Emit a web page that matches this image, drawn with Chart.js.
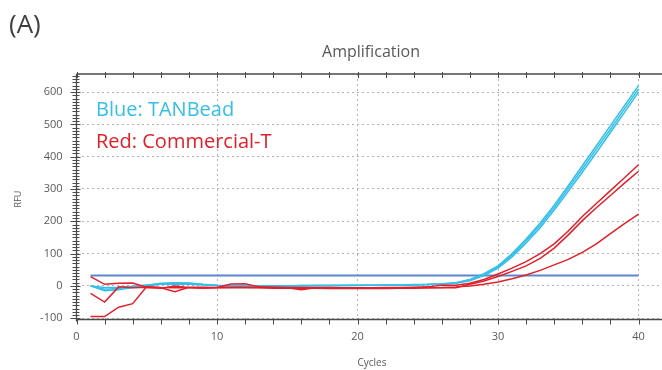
<!DOCTYPE html>
<html>
<head>
<meta charset="utf-8">
<script src="https://cdn.jsdelivr.net/npm/chart.js@4.4.1/dist/chart.umd.min.js"></script>
<style>
  body { margin: 0; background: #fff; }
  #wrap { position: relative; width: 662px; height: 370px; }
</style>
</head>
<body>
<div id="wrap"><canvas id="ampChart" width="662" height="370"></canvas></div>
<script>
// --- DATA ---
const cycles = [1,2,3,4,5,6,7,8,9,10,11,12,13,14,15,16,17,18,19,20,
                21,22,23,24,25,26,27,28,29,30,31,32,33,34,35,36,37,38,39,40];

// TANBead wells (blue)
const blue1 = [0,-15,-12,-5,0,6,8,8,4,1,0,0,0,0,0,1,1,1,2,2,
               2,3,3,4,5,7,10,20,38,62,100,145,195,250,310,372,434,496,558,620];
const blue2 = [0,-5,-4,-1,3,5,5,5,3,1,0,0,0,0,0,1,1,1,1,2,
               2,2,3,3,4,6,9,18,35,58,95,140,188,243,302,362,424,485,548,610];
const blue3 = [0,-10,-8,-2,2,8,10,9,5,2,1,0,0,0,0,0,1,1,1,1,
               2,2,2,3,4,5,8,16,32,55,90,133,180,235,293,352,413,475,537,600];

// Commercial-T wells (red)
const red1 = [29,5,8,9,-5,-7,0,-5,-6,-5,6,7,-3,-4,-5,-5,-5,-5,-6,-6,
              -6,-5,-5,-4,-3,2,2,8,20,37,55,75,100,130,170,215,255,295,335,375];
const red2 = [-23,-50,-3,-6,-4,-6,-18,-4,-4,-5,-4,-4,-5,-5,-6,-12,-6,-6,-7,-7,
              -7,-7,-6,-6,-6,-6,-6,5,15,29,45,62,85,117,158,202,242,280,318,355];
const red3 = [-95,-95,-66,-55,-2,-5,-6,-6,-7,-6,-6,-6,-6,-7,-7,-7,-7,-8,-8,-8,
              -8,-8,-7,-7,-6,-5,-3,0,5,12,22,34,48,65,82,104,130,162,193,222];

// threshold line
const thresholdCycles = [1, 40];
const thresholdValues = [32, 32];

// axis ticks
const xTickValues = [0, 10, 20, 30, 40];
const yTickValues = [-100, 0, 100, 200, 300, 400, 500, 600];

// --- HELPERS ---
function toPoints(xs, ys) {
    return xs.map((x, i) => ({ x: x, y: ys[i] }));
}

const CYAN = '#35bfe8';
const RED = '#e2202b';
const AXIS = '#4a4a4a';
const TEXT = '#595959';

function series(label, values, color) {
    return {
        label: label,
        data: toPoints(cycles, values),
        borderColor: color,
        borderWidth: 1.5,
        pointRadius: 0,
        tension: 0,
        fill: false
    };
}

// --- DECORATION PLUGIN (axis frame, tick marks, texts) ---
const decorations = {
    id: 'decorations',
    afterDraw(chart) {
        const { ctx, chartArea, scales } = chart;
        const xs = scales.x, ys = scales.y;
        const left = chartArea.left, top = chartArea.top;
        const right = chartArea.right, bottom = chartArea.bottom;

        ctx.save();
        ctx.strokeStyle = AXIS;
        ctx.lineWidth = 1.3;

        // frame lines
        ctx.beginPath();
        ctx.moveTo(left, top); ctx.lineTo(right, top);
        ctx.moveTo(left, top); ctx.lineTo(left, bottom + 2);
        ctx.moveTo(left, bottom); ctx.lineTo(right, bottom);
        ctx.stroke();

        // tick marks every 2 cycles, top and bottom
        ctx.lineWidth = 1;
        ctx.beginPath();
        for (let c = 0; c <= 40; c += 2) {
            const px = Math.round(xs.getPixelForValue(c)) + 0.5;
            ctx.moveTo(px, top - 2); ctx.lineTo(px, top + 4);
            ctx.moveTo(px, bottom - 1); ctx.lineTo(px, bottom + 5);
        }
        // left ticks every 10 RFU
        for (let v = -100; v <= 650; v += 10) {
            const py = Math.round(ys.getPixelForValue(v)) + 0.5;
            const major = v % 100 === 0;
            ctx.moveTo(left - (major ? 6 : 4), py);
            ctx.lineTo(left + (major ? 4 : 3), py);
        }
        ctx.stroke();

        // panel letter and title
        ctx.fillStyle = '#404040';
        ctx.textBaseline = 'middle';
        ctx.textAlign = 'left';
        ctx.font = '26px "Open Sans"';
        ctx.fillText('(A)', 9, 26);

        ctx.fillStyle = TEXT;
        ctx.textAlign = 'center';
        ctx.font = '16px "Open Sans"';
        ctx.fillText('Amplification', 371, 52);

        // axis titles
        ctx.font = '10px "Open Sans"';
        ctx.fillText('Cycles', 372, 363);
        ctx.save();
        ctx.translate(18, 199);
        ctx.rotate(-Math.PI / 2);
        ctx.font = '9px "Open Sans"';
        ctx.fillText('RFU', 0, 0);
        ctx.restore();

        // in-plot legend
        ctx.textAlign = 'left';
        ctx.font = '20px "Open Sans"';
        ctx.fillStyle = CYAN;
        ctx.fillText('Blue: TANBead', 96, 110);
        ctx.fillStyle = RED;
        ctx.fillText('Red: Commercial-T', 96, 142);
        ctx.restore();
    }
};

// --- CHART ---
const ctx = document.getElementById('ampChart').getContext('2d');
const ampChart = new Chart(ctx, {
    type: 'line',
    data: {
        datasets: [
            series('Commercial-T 1', red1, RED),
            series('Commercial-T 2', red2, RED),
            series('Commercial-T 3', red3, RED),
            series('TANBead 1', blue1, CYAN),
            series('TANBead 2', blue2, CYAN),
            series('TANBead 3', blue3, CYAN),
            {
                label: 'Threshold',
                data: toPoints(thresholdCycles, thresholdValues),
                borderColor: '#5a87c9',
                borderWidth: 2,
                pointRadius: 0,
                fill: false
            }
        ]
    },
    options: {
        responsive: false,
        animation: false,
        devicePixelRatio: 1,
        layout: { padding: { top: 74, right: 0, left: 0, bottom: 0 } },
        plugins: {
            legend: { display: false },
            title: { display: false },
            tooltip: { enabled: false }
        },
        scales: {
            x: {
                type: 'linear',
                min: 0,
                max: 41.67,
                afterBuildTicks: (scale) => {
                    scale.ticks = xTickValues.map(v => ({ value: v }));
                },
                afterFit: (scale) => { scale.height = 50.5; },
                ticks: {
                    color: TEXT,
                    font: { family: 'Open Sans', size: 11 },
                    padding: 11,
                    maxRotation: 0
                },
                grid: { color: '#b4b4b4', lineWidth: 1, drawTicks: false },
                border: { display: false, dash: [2, 3] }
            },
            y: {
                type: 'linear',
                min: -104,
                max: 656,
                afterBuildTicks: (scale) => {
                    scale.ticks = yTickValues.map(v => ({ value: v }));
                },
                afterFit: (scale) => { scale.width = 76.5; },
                ticks: {
                    color: TEXT,
                    font: { family: 'Open Sans', size: 11 },
                    padding: 14
                },
                grid: { color: '#b4b4b4', lineWidth: 1, drawTicks: false },
                border: { display: false, dash: [2, 3] }
            }
        }
    },
    plugins: [decorations]
});
</script>
</body>
</html>
